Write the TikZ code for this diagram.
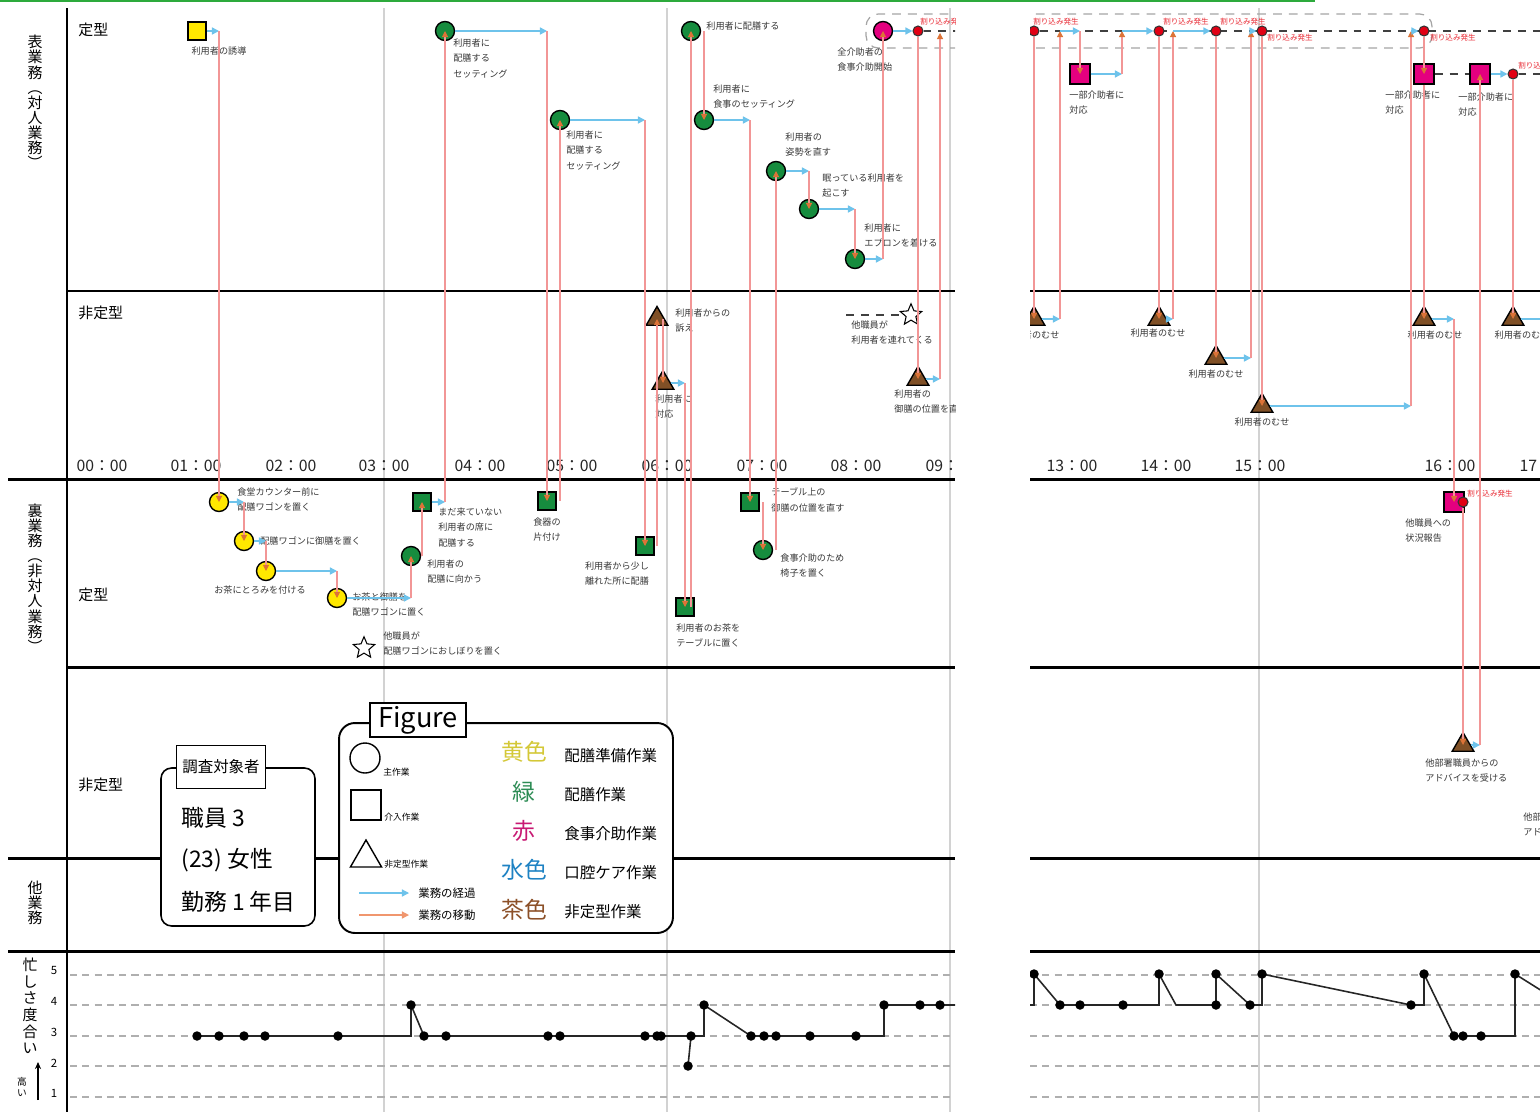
\documentclass[tikz,border=0pt]{standalone}
\usepackage{fontspec}
\setmainfont{Noto Sans CJK JP}
\usepackage{tikz}
\usetikzlibrary{positioning,arrows.meta,shapes.geometric}
\definecolor{TopGreen}{RGB}{45,170,60}
\definecolor{TaskYellow}{RGB}{255,232,0}
\definecolor{TaskGreen}{RGB}{22,140,62}
\definecolor{TaskMagenta}{RGB}{228,0,127}
\definecolor{TaskBrown}{RGB}{128,80,38}
\definecolor{DotRed}{RGB}{225,0,20}
\definecolor{CutRed}{RGB}{232,40,50}
\definecolor{FlowBlue}{RGB}{110,195,235}
\definecolor{MovePink}{RGB}{242,150,150}
\definecolor{MoveTip}{RGB}{220,115,55}
\definecolor{NoteGray}{RGB}{55,55,55}
\definecolor{HourGray}{RGB}{210,210,210}
\definecolor{LevelGray}{RGB}{175,175,175}
\definecolor{ZoneGray}{RGB}{165,165,165}
\definecolor{KeyYellow}{RGB}{212,200,55}
\definecolor{KeyGreen}{RGB}{45,140,85}
\definecolor{KeyRed}{RGB}{200,25,115}
\definecolor{KeyBlue}{RGB}{30,130,195}
\definecolor{KeyBrown}{RGB}{140,80,40}
\definecolor{KeyOrange}{RGB}{240,150,110}
\newcommand{\notefont}{\fontsize{5.2}{9}\selectfont}
\newcommand{\cutfont}{\fontsize{4.3}{5}\selectfont}
\newcommand{\rowfont}{\fontsize{8.5}{10}\selectfont}
\newcommand{\hourfont}{\fontsize{9}{10}\selectfont}
\newcommand{\sidefont}{\fontsize{8.5}{8.6}\selectfont}
\newcommand{\busyfont}{\fontsize{8.5}{9.5}\selectfont}
\newcommand{\highfont}{\fontsize{5.5}{6.2}\selectfont}
\newcommand{\levelfont}{\fontsize{6.5}{7}\selectfont}
\newcommand{\keyfont}{\fontsize{8.8}{10}\selectfont}
\newcommand{\smallkeyfont}{\fontsize{5}{6}\selectfont}
\newcommand{\arrowkeyfont}{\fontsize{6.5}{7}\selectfont}
\newcommand{\bigkeyfont}{\fontsize{13}{14}\selectfont}
\newcommand{\figfont}{\fontsize{15.5}{16}\selectfont}

\begin{document}
\begin{tikzpicture}[
    x=0.02cm, y=-0.02cm,
    frameline/.style={line width=1.7pt, black},
    hourline/.style={line width=1.1pt, HourGray},
    levelline/.style={dash pattern=on 4pt off 3pt, LevelGray, line width=0.6pt},
    zonebox/.style={dash pattern=on 5pt off 4pt, ZoneGray, line width=0.7pt, rounded corners=7pt},
    pendline/.style={dash pattern=on 4.5pt off 4pt, black!75, line width=0.9pt},
    mainwork/.style={circle, draw=black, line width=0.8pt, minimum size=0.38cm, inner sep=0pt},
    subwork/.style={rectangle, draw=black, line width=0.8pt, minimum size=0.36cm, inner sep=0pt},
    oddwork/.style={regular polygon, regular polygon sides=3, draw=black, line width=0.8pt, fill=TaskBrown, minimum size=0.5cm, inner sep=0pt},
    otherstaff/.style={star, star points=5, star point ratio=2.2, draw=black, line width=0.6pt, fill=white, minimum size=0.45cm, inner sep=0pt},
    cutdot/.style={circle, draw=black!80, line width=0.6pt, fill=DotRed, minimum size=0.2cm, inner sep=0pt},
    note/.style={font=\notefont, text=NoteGray, align=left, inner sep=0pt, anchor=north west},
    cutnote/.style={font=\cutfont, text=CutRed, inner sep=0pt, anchor=west},
    flowarrow/.style={-{Triangle[length=4pt,width=4pt]}, FlowBlue, line width=0.8pt},
    movearrow/.style={-{Triangle[length=3.5pt,width=3.5pt,color=MoveTip]}, MovePink, line width=0.6pt},
    hourlabel/.style={font=\hourfont, text=black!85, inner sep=0pt},
    rowlabel/.style={font=\rowfont, inner sep=0pt, anchor=west},
    sidelabel/.style={font=\sidefont, align=center, inner sep=0pt},
    levellabel/.style={font=\levelfont, inner sep=0pt},
    busyline/.style={line width=0.9pt, black!85},
    keybig/.style={font=\bigkeyfont, inner sep=0pt},
    keytext/.style={font=\keyfont, inner sep=0pt, anchor=west},
    keysmall/.style={font=\smallkeyfont, inner sep=0pt, anchor=west},
    keyarrowtext/.style={font=\arrowkeyfont, inner sep=0pt, anchor=west},
]
\useasboundingbox (0,0) rectangle (1540,1112);
\draw[TopGreen, line width=1.2pt] (0,1) -- (1315,1);

%% left half: 00:00 - 09:00
\begin{scope}
\clip (0,0) rectangle (955,1112);
\draw[hourline] (384,8) -- (384,1112);
\draw[hourline] (667,8) -- (667,1112);
\draw[hourline] (950,8) -- (950,1112);
\draw[frameline] (67,8) -- (67,1112);
\draw[frameline] (67,291) -- (955,291);
\draw[frameline] (8,479) -- (955,479);
\draw[frameline] (67,667) -- (955,667);
\draw[frameline] (8,858) -- (955,858);
\draw[frameline] (8,951) -- (955,951);
\foreach \ly in {975,1005,1036,1066,1097}
    \draw[levelline] (70,\ly) -- (955,\ly);
\draw[zonebox] (980,14) -- (866,14) -- (866,48) -- (980,48);

\node[hourlabel] (h00) at (102,466) {00：00};
\node[hourlabel] (h01) at (196,466) {01：00};
\node[hourlabel] (h02) at (291,466) {02：00};
\node[hourlabel] (h03) at (384,466) {03：00};
\node[hourlabel] (h04) at (480,466) {04：00};
\node[hourlabel] (h05) at (572,466) {05：00};
\node[hourlabel] (h06) at (667,466) {06：00};
\node[hourlabel] (h07) at (762,466) {07：00};
\node[hourlabel] (h08) at (856,466) {08：00};
\node[hourlabel] (h09) at (951,466) {09：00};

% front work, routine
\node[subwork, fill=TaskYellow] (y1) at (197,31) {};
\node[note, anchor=center] (ly1) at (219,51) {利用者の誘導};
\node[mainwork, fill=TaskGreen] (g1) at (445,31) {};
\node[note] (lg1) at (453,38) {利用者に\\配膳する\\セッティング};
\node[mainwork, fill=TaskGreen] (g3) at (560,120) {};
\node[note] (lg3) at (566,130) {利用者に\\配膳する\\セッティング};
\node[mainwork, fill=TaskGreen] (g4) at (691,31) {};
\node[note, anchor=west] (lg4) at (706,26) {利用者に配膳する};
\node[mainwork, fill=TaskGreen] (g5) at (704,120) {};
\node[note] (lg5) at (713,84) {利用者に\\食事のセッティング};
\node[mainwork, fill=TaskGreen] (g7) at (776,171) {};
\node[note] (lg7) at (785,132) {利用者の\\姿勢を直す};
\node[mainwork, fill=TaskGreen] (g8) at (809,209) {};
\node[note] (lg8) at (822,173) {眠っている利用者を\\起こす};
\node[mainwork, fill=TaskGreen] (g9) at (855,259) {};
\node[note] (lg9) at (864,223) {利用者に\\エプロンを着ける};
\node[mainwork, fill=TaskMagenta] (m1) at (883,31) {};
\node[note] (lm1) at (837,47) {全介助者の\\食事介助開始};
\node[cutdot] (r1) at (918,31) {};
\node[cutnote] (lr1) at (920,22) {割り込み発生};

% front work, non-routine
\node[oddwork] (t1) at (657,319) {};
\node[note] (lt1) at (675,308) {利用者からの\\訴え};
\node[oddwork] (t2) at (663,383) {};
\node[note] (lt2) at (655,394) {利用者に\\対応};
\node[otherstaff] (st1) at (911,315) {};
\node[note] (lst1) at (851,320) {他職員が\\利用者を連れてくる};
\node[oddwork] (t3) at (918,379) {};
\node[note] (lt3) at (894,389) {利用者の\\御膳の位置を直す};
\coordinate (hand1) at (846,315);
\draw[pendline] (hand1) -- (st1.west);

% back work, routine
\node[mainwork, fill=TaskYellow] (c1) at (219,502) {};
\node[note] (lc1) at (237,487) {食堂カウンター前に\\配膳ワゴンを置く};
\node[mainwork, fill=TaskYellow] (c2) at (244,541) {};
\node[note, anchor=west] (lc2) at (260,541) {配膳ワゴンに御膳を置く};
\node[mainwork, fill=TaskYellow] (c3) at (266,571) {};
\node[note, anchor=center] (lc3) at (260,590) {お茶にとろみを付ける};
\node[mainwork, fill=TaskYellow] (c4) at (337,598) {};
\node[note] (lc4) at (352,592) {お茶と御膳を\\配膳ワゴンに置く};
\node[mainwork, fill=TaskGreen] (g2) at (411,556) {};
\node[note] (lg2) at (427,559) {利用者の\\配膳に向かう};
\node[subwork, fill=TaskGreen] (s1) at (422,502) {};
\node[note] (ls1) at (438,507) {まだ来ていない\\利用者の席に\\配膳する};
\node[subwork, fill=TaskGreen] (s2) at (547,501) {};
\node[note] (ls2) at (533,517) {食器の\\片付け};
\node[subwork, fill=TaskGreen] (s3) at (645,546) {};
\node[note, anchor=north, align=center] (ls3) at (617,561) {利用者から少し\\離れた所に配膳};
\node[subwork, fill=TaskGreen] (s4) at (685,607) {};
\node[note] (ls4) at (676,623) {利用者のお茶を\\テーブルに置く};
\node[subwork, fill=TaskGreen] (s5) at (750,502) {};
\node[note] (ls5) at (771,487) {テーブル上の\\御膳の位置を直す};
\node[mainwork, fill=TaskGreen] (g6) at (763,550) {};
\node[note] (lg6) at (780,553) {食事介助のため\\椅子を置く};
\node[otherstaff] (st2) at (364,648) {};
\node[note] (lst2) at (383,631) {他職員が\\配膳ワゴンにおしぼりを置く};

% course of work (blue) and moves between rows (pink)
\draw[flowarrow] (y1.east) -- (c1 |- y1);
\draw[movearrow] (c1 |- y1) -- (c1.center);
\draw[flowarrow] (c1.east) -- (c2 |- c1);
\draw[movearrow] (c2 |- c1) -- (c2.center);
\draw[flowarrow] (c2.east) -- (c3 |- c2);
\draw[movearrow] (c3 |- c2) -- (c3.center);
\draw[flowarrow] (c3.east) -- (c4 |- c3);
\draw[movearrow] (c4 |- c3) -- (c4.center);
\draw[flowarrow] (c4.east) -- (g2 |- c4);
\draw[movearrow] (g2 |- c4) -- (g2.center);
\draw[movearrow] (s1 |- g2) -- (s1.center);
\draw[flowarrow] (s1.east) -- (g1 |- s1);
\draw[movearrow] (g1 |- s1) -- (g1.center);
\draw[flowarrow] (g1.east) -- (s2 |- g1);
\draw[movearrow] (s2 |- g1) -- (s2.center);
\draw[movearrow] (g3 |- s2) -- (g3.center);
\draw[flowarrow] (g3.east) -- (s3 |- g3);
\draw[movearrow] (s3 |- g3) -- (s3.center);
\draw[movearrow] (t1 |- s3) -- (t1.center);
\draw[movearrow] (t2 |- t1) -- (t2.center);
\draw[flowarrow] (t2.east) -- (s4 |- t2);
\draw[movearrow] (s4 |- t2) -- (s4.center);
\draw[movearrow] (g4 |- s4) -- (g4.center);
\draw[movearrow] (g5 |- g4) -- (g5.center);
\draw[flowarrow] (g5.east) -- (s5 |- g5);
\draw[movearrow] (s5 |- g5) -- (s5.center);
\draw[movearrow] (g6 |- s5) -- (g6.center);
\draw[movearrow] (g7 |- g6) -- (g7.center);
\draw[flowarrow] (g7.east) -- (g8 |- g7);
\draw[movearrow] (g8 |- g7) -- (g8.center);
\draw[flowarrow] (g8.east) -- (g9 |- g8);
\draw[movearrow] (g9 |- g8) -- (g9.center);
\draw[flowarrow] (g9.east) -- (m1 |- g9);
\draw[movearrow] (m1 |- g9) -- (m1.center);
\draw[flowarrow] (m1.east) -- (r1.west);
\coordinate (wait0) at (975,31);
\draw[pendline] (r1.east) -- (wait0);
\draw[movearrow] (r1.south) -- (t3.center);
\coordinate (back0) at (940,33);
\draw[flowarrow] (t3.east) -- (back0 |- t3);
\draw[movearrow] (back0 |- t3) -- (back0);

% how busy
\draw[busyline] (197,1036) -- (411,1036) -- (411,1005) -- (424,1036) -- (704,1036) -- (704,1005) -- (751,1036) -- (884,1036) -- (884,1005) -- (960,1005);
\draw[busyline] (691,1036) -- (688,1066);
\foreach \bx/\by in {197/1036, 219/1036, 244/1036, 265/1036, 338/1036, 411/1005, 424/1036, 446/1036, 548/1036, 560/1036, 645/1036, 657/1036, 661/1036, 688/1066, 691/1036, 704/1005, 751/1036, 764/1036, 776/1036, 810/1036, 856/1036, 884/1005, 920/1005, 940/1005}
    \fill[black] (\bx,\by) circle[radius=0.095cm];
\end{scope}

%% right half: 13:00 -
\begin{scope}
\clip (1030,0) rectangle (1540,1112);
\draw[hourline] (1259,8) -- (1259,1112);
\foreach \fy in {291,479,667,858,951}
    \draw[frameline] (1030,\fy) -- (1540,\fy);
\foreach \ly in {975,1005,1036,1066,1097}
    \draw[levelline] (1030,\ly) -- (1540,\ly);
\draw[zonebox] (1020,14) -- (1432,14) -- (1432,48) -- (1020,48);
\coordinate (wait1) at (1025,31);
\coordinate (wait2) at (1545,31);
\draw[pendline] (wait1) -- (wait2);

\node[hourlabel] (h13) at (1072,466) {13：00};
\node[hourlabel] (h14) at (1166,466) {14：00};
\node[hourlabel] (h15) at (1260,466) {15：00};
\node[hourlabel] (h16) at (1450,466) {16：00};
\node[hourlabel] (h17) at (1545,466) {17：00};

\node[cutdot] (rr1) at (1034,31) {};
\node[cutnote] (lrr1) at (1033,22) {割り込み発生};
\node[oddwork] (tt1) at (1034,319) {};
\node[note, anchor=center] (ltt1) at (1032,335) {利用者のむせ};
\node[subwork, fill=TaskMagenta, minimum size=0.4cm] (q1) at (1080,74) {};
\node[note] (lq1) at (1069,90) {一部介助者に\\対応};
\node[cutdot] (rr2) at (1159,31) {};
\node[cutnote] (lrr2) at (1163,22) {割り込み発生};
\node[oddwork] (tt2) at (1159,319) {};
\node[note, anchor=center] (ltt2) at (1158,333) {利用者のむせ};
\node[cutdot] (rr3) at (1216,31) {};
\node[cutnote] (lrr3) at (1220,22) {割り込み発生};
\node[oddwork] (tt3) at (1216,358) {};
\node[note, anchor=center] (ltt3) at (1216,374) {利用者のむせ};
\node[cutdot] (rr4) at (1262,31) {};
\node[cutnote] (lrr4) at (1267,38) {割り込み発生};
\node[oddwork] (tt4) at (1262,406) {};
\node[note, anchor=center] (ltt4) at (1262,422) {利用者のむせ};
\node[cutdot] (rr5) at (1424,31) {};
\node[cutnote] (lrr5) at (1430,38) {割り込み発生};
\node[subwork, fill=TaskMagenta, minimum size=0.4cm] (q2) at (1424,74) {};
\node[note] (lq2) at (1385,90) {一部介助者に\\対応};
\node[oddwork] (tt5) at (1424,319) {};
\node[note, anchor=center] (ltt5) at (1435,335) {利用者のむせ};
\node[subwork, fill=TaskMagenta, minimum size=0.4cm] (q3) at (1454,502) {};
\node[note] (lq3) at (1405,518) {他職員への\\状況報告};
\node[cutdot] (rr6) at (1463,502) {};
\node[cutnote] (lrr6) at (1467,494) {割り込み発生};
\node[oddwork] (tt6) at (1463,745) {};
\node[note] (ltt6) at (1425,758) {他部署職員からの\\アドバイスを受ける};
\node[subwork, fill=TaskMagenta, minimum size=0.4cm] (q4) at (1480,74) {};
\node[note] (lq4) at (1458,92) {一部介助者に\\対応};
\node[cutdot] (rr7) at (1513,74) {};
\node[cutnote] (lrr7) at (1518,66) {割り込み発生};
\node[oddwork] (tt7) at (1513,319) {};
\node[note, anchor=center] (ltt7) at (1522,335) {利用者のむせ};
\node[note] (ltt8) at (1523,812) {他部署職員からの\\アドバイスを受ける};

\coordinate (back1) at (1060,31);
\coordinate (back2) at (1122,31);
\coordinate (back3) at (1173,31);
\coordinate (back4) at (1251,31);
\coordinate (back5) at (1411,31);
\coordinate (exit1) at (1560,74);
\coordinate (exit2) at (1560,319);
\draw[movearrow] (rr1.south) -- (tt1.center);
\draw[flowarrow] (tt1.east) -- (back1 |- tt1);
\draw[movearrow] (back1 |- tt1) -- (back1);
\draw[flowarrow] (back1) -- (q1 |- back1);
\draw[movearrow] (q1 |- back1) -- (q1.center);
\draw[flowarrow] (q1.east) -- (back2 |- q1);
\draw[movearrow] (back2 |- q1) -- (back2);
\draw[flowarrow] (back2) -- (rr2.west);
\draw[movearrow] (rr2.south) -- (tt2.center);
\draw[flowarrow] (tt2.east) -- (back3 |- tt2);
\draw[movearrow] (back3 |- tt2) -- (back3);
\draw[flowarrow] (back3) -- (rr3.west);
\draw[movearrow] (rr3.south) -- (tt3.center);
\draw[flowarrow] (tt3.east) -- (back4 |- tt3);
\draw[movearrow] (back4 |- tt3) -- (back4);
\draw[flowarrow] (back4) -- (rr4.west);
\draw[movearrow] (rr4.south) -- (tt4.center);
\draw[flowarrow] (tt4.east) -- (back5 |- tt4);
\draw[movearrow] (back5 |- tt4) -- (back5);
\draw[flowarrow] (back5) -- (rr5.west);
\draw[movearrow] (rr5.south) -- (q2.center);
\draw[movearrow] (q2.south) -- (tt5.center);
\draw[flowarrow] (tt5.east) -- (q3 |- tt5);
\draw[movearrow] (q3 |- tt5) -- (q3.center);
\draw[movearrow] (rr6.south) -- (tt6.center);
\draw[flowarrow] (tt6.east) -- (q4 |- tt6);
\draw[movearrow] (q4 |- tt6) -- (q4.center);
\draw[pendline] (q2.east) -- (q4.west);
\draw[flowarrow] (q4.east) -- (rr7.west);
\draw[pendline] (rr7.east) -- (exit1);
\draw[movearrow] (rr7.south) -- (tt7.center);
\draw[flowarrow] (tt7.east) -- (exit2);

% how busy
\draw[busyline] (1025,1005) -- (1034,1005) -- (1034,974) -- (1060,1005) -- (1159,1005) -- (1159,974) -- (1176,1005) -- (1216,1005) -- (1216,974) -- (1250,1005) -- (1262,1005) -- (1262,974) -- (1411,1005) -- (1424,1005) -- (1424,974) -- (1454,1036) -- (1515,1036) -- (1515,974) -- (1550,996);
\foreach \bx/\by in {1034/974, 1060/1005, 1080/1005, 1123/1005, 1159/974, 1216/974, 1216/1005, 1250/1005, 1262/974, 1411/1005, 1424/974, 1454/1036, 1463/1036, 1481/1036, 1515/974}
    \fill[black] (\bx,\by) circle[radius=0.095cm];
\end{scope}

%% row and side labels
\node[rowlabel] (rowA) at (78,30) {定型};
\node[rowlabel] (rowB) at (78,313) {非定型};
\node[rowlabel] (rowC) at (78,595) {定型};
\node[rowlabel] (rowD) at (78,785) {非定型};
\node[sidelabel] (front) at (35,102) {表\\業\\務\\︵\\対\\人\\業\\務\\︶};
\node[sidelabel] (back) at (35,578) {裏\\業\\務\\︵\\非\\対\\人\\業\\務\\︶};
\node[sidelabel] (other) at (35,903) {他\\業\\務};
\node[sidelabel, font=\busyfont] (busy) at (30,1006) {忙\\し\\さ\\度\\合\\い};
\node[sidelabel, font=\highfont] (high) at (22,1087) {高\\い};
\coordinate (highlo) at (38,1100);
\coordinate (highhi) at (38,1062);
\draw[-{Stealth[length=4pt,width=3.5pt]}, line width=0.7pt] (highlo) -- (highhi);
\node[levellabel] (lv5) at (54,970) {5};
\node[levellabel] (lv4) at (54,1001) {4};
\node[levellabel] (lv3) at (54,1032) {3};
\node[levellabel] (lv2) at (54,1063) {2};
\node[levellabel] (lv1) at (54,1093) {1};

%% subject and key
\node[draw, line width=0.9pt, rounded corners=6pt, fill=white, minimum width=3.08cm, minimum height=3.16cm] (subjbox) at (238,847) {};
\node[draw, line width=0.9pt, fill=white, minimum width=1.78cm, minimum height=0.86cm, inner sep=0pt, font=\keyfont] (subjtitle) at (221,767) {調査対象者};
\node[keybig, anchor=west] (staff) at (181,818) {職員 3};
\node[keybig, anchor=west] (age) at (181,860) {(23) 女性};
\node[keybig, anchor=west] (career) at (181,902) {勤務 1 年目};

\node[draw, line width=1.1pt, rounded corners=9pt, fill=white, minimum width=6.68cm, minimum height=4.2cm] (figbox) at (506,828) {};
\node[draw, line width=1.1pt, fill=white, minimum width=1.92cm, minimum height=0.68cm, inner sep=0pt, font=\figfont] (figtitle) at (418,720) {Figure};
\node[circle, draw, line width=0.8pt, minimum size=0.6cm, inner sep=0pt] (keymain) at (365,758) {};
\node[keysmall] (lkeymain) at (383,772) {主作業};
\node[rectangle, draw, line width=0.8pt, minimum size=0.6cm, inner sep=0pt] (keysub) at (366,805) {};
\node[keysmall] (lkeysub) at (384,817) {介入作業};
\node[regular polygon, regular polygon sides=3, draw, line width=0.8pt, minimum size=0.72cm, inner sep=0pt] (keyodd) at (366,858) {};
\node[keysmall] (lkeyodd) at (384,864) {非定型作業};
\coordinate (keyflowa) at (359,893);
\coordinate (keyflowb) at (409,893);
\draw[flowarrow, line width=0.7pt] (keyflowa) -- (keyflowb);
\node[keyarrowtext] (lkeyflow) at (418,893) {業務の経過};
\coordinate (keymovea) at (359,915);
\coordinate (keymoveb) at (409,915);
\draw[-{Triangle[length=4pt,width=4pt]}, KeyOrange, line width=0.7pt] (keymovea) -- (keymoveb);
\node[keyarrowtext] (lkeymove) at (418,915) {業務の移動};
\node[keybig, text=KeyYellow] (kyellow) at (524,752) {黄色};
\node[keybig, text=KeyGreen] (kgreen) at (524,792) {緑};
\node[keybig, text=KeyRed] (kred) at (524,831) {赤};
\node[keybig, text=KeyBlue] (kblue) at (524,870) {水色};
\node[keybig, text=KeyBrown] (kbrown) at (524,910) {茶色};
\node[keytext] (dyellow) at (564,756) {配膳準備作業};
\node[keytext] (dgreen) at (564,795) {配膳作業};
\node[keytext] (dred) at (564,834) {食事介助作業};
\node[keytext] (dblue) at (564,873) {口腔ケア作業};
\node[keytext] (dbrown) at (564,912) {非定型作業};
\end{tikzpicture}
\end{document}
